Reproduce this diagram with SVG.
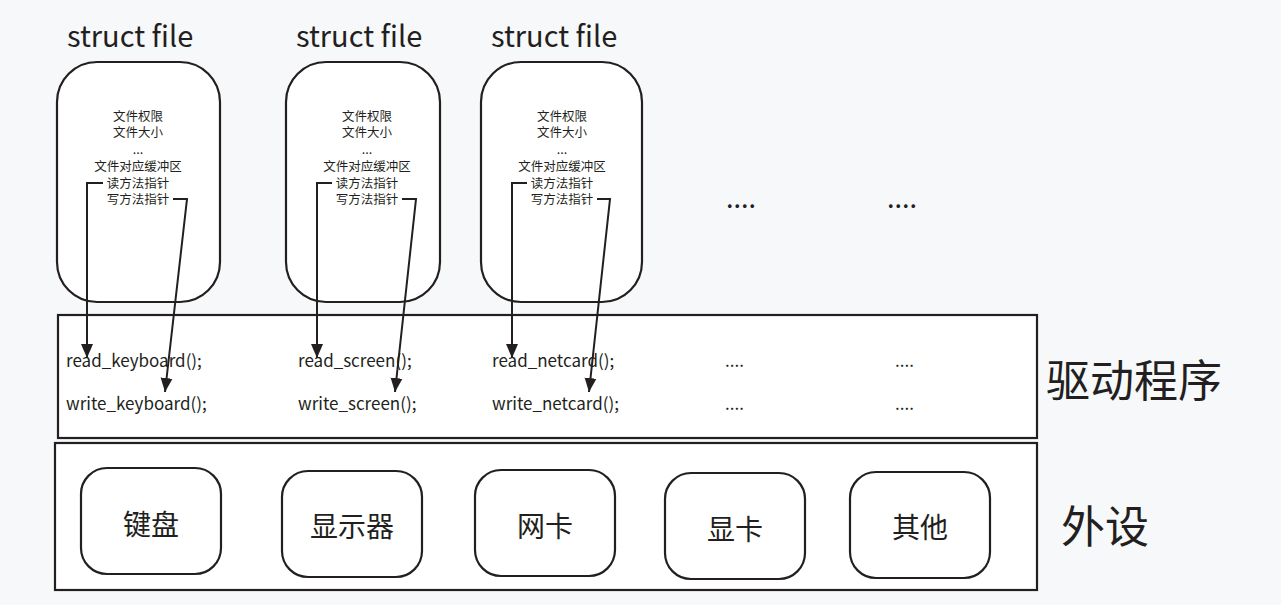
<svg xmlns="http://www.w3.org/2000/svg" width="1281" height="605" viewBox="0 0 1281 605">
<style>
text{font-family:"Noto Sans CJK SC","Noto Sans",sans-serif;fill:#231f20}
.title{font-size:29px}
.small{font-size:12.5px;text-anchor:middle}
.fn{font-size:17px}
.big{font-size:44px}
.dev{font-size:28px;text-anchor:middle}
.dots{font-size:27px}
.box{fill:#fff;stroke:#231f20;stroke-width:2.2}
.conn{fill:none;stroke:#231f20;stroke-width:2}
</style>
<defs>
<marker id="ah" markerUnits="userSpaceOnUse" markerWidth="16" markerHeight="16" viewBox="0 0 16 16" refX="14" refY="8" orient="auto">
<path d="M0,2 L14,8 L0,14 Z" fill="#231f20"/>
</marker>
</defs>
<rect width="1281" height="605" fill="#f7f8fa"/>

<g id="drivers">
<rect class="box" x="58" y="315" width="979" height="123"/>
<text class="fn" x="66" y="367">read_keyboard();</text>
<text class="fn" x="66" y="410">write_keyboard();</text>
<text class="fn" x="298" y="367">read_screen();</text>
<text class="fn" x="298" y="410">write_screen();</text>
<text class="fn" x="492" y="367">read_netcard();</text>
<text class="fn" x="492" y="410">write_netcard();</text>
<text class="fn" x="725" y="367">....</text>
<text class="fn" x="725" y="410">....</text>
<text class="fn" x="895" y="367">....</text>
<text class="fn" x="895" y="410">....</text>
</g>
<text class="big" x="1046" y="397">驱动程序</text>

<g id="peripherals">
<rect class="box" x="55" y="443" width="982" height="147"/>
</g>
<text class="big" x="1061" y="543">外设</text>

<g id="dev-keyboard"><rect class="box" x="81" y="468" width="140" height="106" rx="26"/><text class="dev" x="151" y="535">键盘</text></g>
<g id="dev-display"><rect class="box" x="282" y="471" width="140" height="106" rx="26"/><text class="dev" x="352" y="537">显示器</text></g>
<g id="dev-netcard"><rect class="box" x="475" y="470" width="140" height="106" rx="26"/><text class="dev" x="545" y="537">网卡</text></g>
<g id="dev-gpu"><rect class="box" x="665" y="473" width="140" height="106" rx="26"/><text class="dev" x="735" y="540">显卡</text></g>
<g id="dev-other"><rect class="box" x="850" y="472" width="140" height="106" rx="26"/><text class="dev" x="920" y="538">其他</text></g>

<g id="file1">
<text class="title" x="67" y="47">struct file</text>
<rect class="box" x="57" y="62" width="163" height="240" rx="40"/>
<text class="small" x="138" y="121">文件权限</text>
<text class="small" x="138" y="137">文件大小</text>
<text class="small" x="138" y="154">...</text>
<text class="small" x="138" y="171">文件对应缓冲区</text>
<text class="small" x="138" y="188">读方法指针</text>
<text class="small" x="138" y="204">写方法指针</text>
</g>
<g id="file2">
<text class="title" x="296" y="47">struct file</text>
<rect class="box" x="286" y="62" width="154" height="240" rx="40"/>
<text class="small" x="367" y="121">文件权限</text>
<text class="small" x="367" y="137">文件大小</text>
<text class="small" x="367" y="154">...</text>
<text class="small" x="367" y="171">文件对应缓冲区</text>
<text class="small" x="367" y="188">读方法指针</text>
<text class="small" x="367" y="204">写方法指针</text>
</g>
<g id="file3">
<text class="title" x="491" y="47">struct file</text>
<rect class="box" x="481" y="62" width="161" height="240" rx="40"/>
<text class="small" x="562" y="121">文件权限</text>
<text class="small" x="562" y="137">文件大小</text>
<text class="small" x="562" y="154">...</text>
<text class="small" x="562" y="171">文件对应缓冲区</text>
<text class="small" x="562" y="188">读方法指针</text>
<text class="small" x="562" y="204">写方法指针</text>
</g>
<text class="dots" x="726" y="208">....</text>
<text class="dots" x="887" y="208">....</text>

<g id="connectors">
<polyline class="conn" points="103,183 87,183 87,358" marker-end="url(#ah)"/>
<polyline class="conn" points="173,199 187,199 165,392" marker-end="url(#ah)"/>
<polyline class="conn" points="332,183 317,183 317,358" marker-end="url(#ah)"/>
<polyline class="conn" points="402,199 416,199 395,392" marker-end="url(#ah)"/>
<polyline class="conn" points="527,183 512,183 512,358" marker-end="url(#ah)"/>
<polyline class="conn" points="597,199 610,199 589,392" marker-end="url(#ah)"/>
</g>
</svg>
